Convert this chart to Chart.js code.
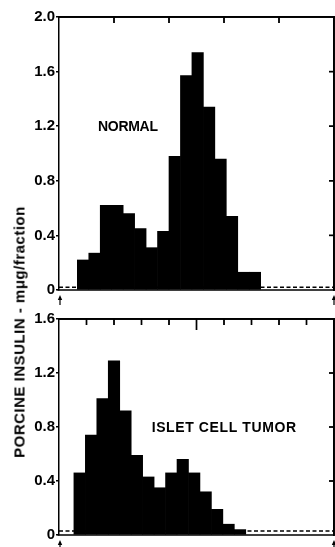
<!DOCTYPE html>
<html><head><meta charset="utf-8">
<script src="https://cdn.jsdelivr.net/npm/chart.js@4/dist/chart.umd.min.js"></script>
<style>
html,body{margin:0;padding:0;background:#fff;}
#wrap{position:relative;width:335px;height:547px;overflow:hidden;}
#wrap canvas{position:absolute;left:0;}
#cTop{top:0;}
#cBottom{top:305px;}
#ytitle{position:absolute;left:18.5px;top:332px;transform:translate(-50%,-50%) rotate(-90deg);
  white-space:nowrap;font:bold 15px 'Liberation Sans', Arial, sans-serif;letter-spacing:0.5px;color:#000;}
</style></head><body>
<div id="wrap">
<canvas id="cTop" width="335" height="305"></canvas>
<canvas id="cBottom" width="335" height="242"></canvas>
<div id="ytitle"></div>
</div>
<script>
// ---- data ----
const normalFractions = [2,3,4,5,6,7,8,9,10,11,12,13,14,15,16,17];
const normalInsulin   = [0.22,0.27,0.62,0.62,0.56,0.45,0.31,0.43,0.98,1.57,1.74,1.34,0.96,0.54,0.13,0.13];
const tumorFractions  = [2,3,4,5,6,7,8,9,10,11,12,13,14,15,16];
const tumorInsulin    = [0.46,0.74,1.01,1.29,0.92,0.59,0.43,0.35,0.46,0.56,0.46,0.32,0.19,0.08,0.04];
const normalBlank = 0.02;
const tumorBlank  = 0.03;
const normalYTicks = [0,0.4,0.8,1.2,1.6,2.0];
const tumorYTicks  = [0,0.4,0.8,1.2,1.6];
const normalLabel = 'NORMAL';
const tumorLabel  = 'ISLET CELL TUMOR';
const yTitle = 'PORCINE INSULIN - m\u03bcg/fraction';

document.getElementById('ytitle').textContent = yTitle;

const FONT = "'Liberation Sans', Arial, Helvetica, sans-serif";

function drawFrameTop(chart){
  const ctx = chart.ctx, a = chart.chartArea;
  const xs = chart.scales.x, ys = chart.scales.y;
  ctx.save();
  ctx.setLineDash([]);
  ctx.globalCompositeOperation = 'source-over';
  ctx.globalAlpha = 1;
  ctx.fillStyle = '#000';
  const w = 1.5;
  ctx.fillRect(a.left - 0.75, a.top - w/2, a.right - a.left + 1.5, w);   // top
  ctx.fillRect(a.right - w/2, a.top - w/2, w, a.bottom - a.top + w);     // right
  const n = xs.ticks.length;
  xs.ticks.forEach((t,i)=>{
    if(i===0 || i===n-1) return;
    const px = xs.getPixelForValue(t.value);
    const len = (i === (n-1)/2) ? 11 : 6;
    ctx.fillRect(px - 0.7, a.top, 1.4, len);
  });
  ys.ticks.forEach(t=>{
    if(t.value===0 || t.value===ys.max) return;
    const py = ys.getPixelForValue(t.value);
    ctx.fillRect(a.right - 5, py - 0.7, 5, 1.4);
  });
  ctx.restore();
}

function framePlugin(opts){
  return {
    id:'panelFrame',
    beforeDatasetsDraw(chart){ drawFrameTop(chart); },
    afterDraw(chart){
      const ctx = chart.ctx, a = chart.chartArea;
      const ys = chart.scales.y;
      drawFrameTop(chart);
      ctx.save();
      ctx.setLineDash([]);
      ctx.fillStyle = '#000';
      const w = 1.5;
      ctx.fillRect(a.left - 1.5, a.bottom - w/2, a.right - a.left + 2.25, w); // bottom
      [a.left+1, a.right].forEach(x=>{
        const y0 = a.bottom + 5;
        ctx.fillRect(x - 0.6, y0 + 3, 1.2, 9);
        ctx.beginPath(); ctx.moveTo(x, y0); ctx.lineTo(x-2.2, y0+5); ctx.lineTo(x+2.2, y0+5); ctx.closePath(); ctx.fill();
      });
      ctx.font = 'bold 14px ' + FONT;
      ctx.letterSpacing = opts.spacing + 'px';
      ctx.textAlign = 'left'; ctx.textBaseline = 'middle';
      ctx.fillText(opts.label, a.left + opts.labelFrac*(a.right-a.left), ys.getPixelForValue(opts.labelY) + 1);
      ctx.letterSpacing = '0px';
      ctx.restore();
    }
  };
}

function makeChart(id, fractions, values, blank, yTicks, yMax, xMin, xMax, pad, opts){
  const plainBorder = { display:true, color:'#000', width:1.5 };
  return new Chart(document.getElementById(id), {
    data:{
      datasets:[
        { type:'bar', data: fractions.map((f,i)=>({x:f, y:values[i]})), xAxisID:'x', yAxisID:'y',
          backgroundColor:'#000', borderWidth:0, barPercentage:1, categoryPercentage:1, order:1 },
        { type:'line', data:[{x:xMin,y:blank},{x:xMax,y:blank}], xAxisID:'x', yAxisID:'y',
          borderColor:'#000', borderWidth:1.4, borderDash:[4,2.5], pointRadius:0, order:2 }
      ]
    },
    options:{
      responsive:false, animation:false, events:[],
      layout:{padding:pad},
      plugins:{legend:{display:false}, tooltip:{enabled:false}},
      scales:{
        x:{ type:'linear', min:xMin, max:xMax, display:false, offset:false, grid:{offset:false},
            afterBuildTicks: s => { s.ticks = Array.from({length:11},(_,k)=>({value: xMin + k*(xMax-xMin)/10})); } },
        xTop:{ type:'linear', position:'top', axis:'x', min:xMin, max:xMax, offset:false,
            ticks:{display:false}, grid:{drawOnChartArea:false, drawTicks:false},
            border: plainBorder, afterFit: s => { s.height = 0; } },
        y:{ type:'linear', min:0, max:yMax,
            afterBuildTicks: s => { s.ticks = yTicks.map(v=>({value:v})); },
            afterFit: s => { s.width = 59; },
            ticks:{ color:'#000', padding:1, font:{family:FONT, size:15, weight:'bold'},
                    callback: v => v===0 ? '0' : v.toFixed(1) },
            grid:{ drawOnChartArea:false, drawTicks:true, tickLength:3, color:'#000', lineWidth:1.5 },
            border: plainBorder },
        yRight:{ type:'linear', position:'right', axis:'y', min:0, max:yMax,
            ticks:{display:false}, grid:{drawOnChartArea:false, drawTicks:false},
            border: plainBorder, afterFit: s => { s.width = 0; } }
      }
    },
    plugins:[framePlugin(opts)]
  });
}

makeChart('cTop', normalFractions, normalInsulin, normalBlank, normalYTicks, 2.0, -0.1, 23.9,
  {top:17, right:1, bottom:15, left:0},
  {label:normalLabel, labelFrac:0.142, labelY:1.2, spacing:-0.3});
makeChart('cBottom', tumorFractions, tumorInsulin, tumorBlank, tumorYTicks, 1.6, 0.2, 24.2,
  {top:14, right:1, bottom:12, left:0},
  {label:tumorLabel, labelFrac:0.337, labelY:0.8, spacing:0.6});
</script>
</body></html>
